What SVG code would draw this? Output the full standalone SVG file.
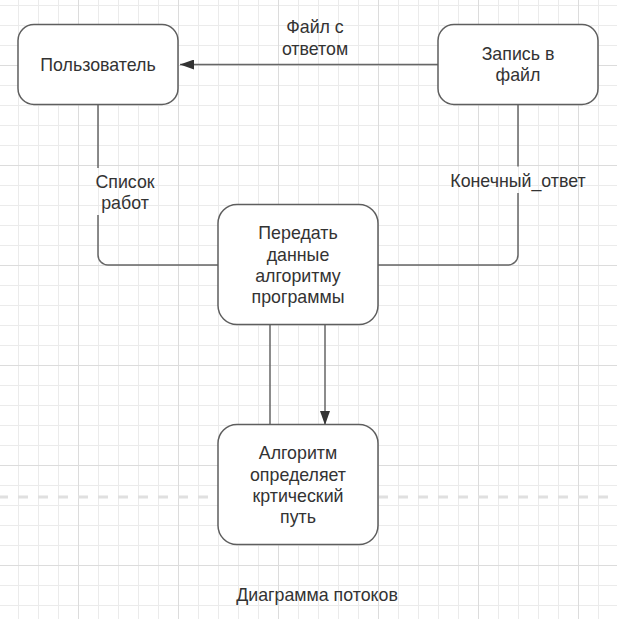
<svg xmlns="http://www.w3.org/2000/svg" width="617" height="619" viewBox="0 0 617 619">
<defs>
<pattern id="minor" x="18" y="5" width="20" height="20" patternUnits="userSpaceOnUse">
<path d="M0.5 0V20M0 0.5H20" stroke="#ebebeb" stroke-width="1" fill="none"/>
</pattern>
<pattern id="major" x="78" y="65" width="100" height="100" patternUnits="userSpaceOnUse">
<path d="M0.5 0V100M0 0.5H100" stroke="#dcdcdc" stroke-width="1" fill="none"/>
</pattern>
<marker id="arr" viewBox="0 0 14 10" refX="14" refY="5" markerWidth="14" markerHeight="10" markerUnits="userSpaceOnUse" orient="auto">
<path d="M0 0L14 5L0 10Z" fill="#333333"/>
</marker>
<style>
.box{fill:#ffffff;stroke:#5e5e5e;stroke-width:1.5}
.t{font-family:"Liberation Sans",Arial,sans-serif;font-size:17.8px;fill:#333333;text-anchor:middle}
.c{fill:none;stroke:#666666;stroke-width:1.5}
</style>
</defs>
<rect width="617" height="619" fill="#ffffff"/>
<rect width="617" height="619" fill="url(#minor)"/>
<rect width="617" height="619" fill="url(#major)"/>
<line x1="0" y1="497" x2="617" y2="497" stroke="#e0e0e0" stroke-width="3" stroke-dasharray="10 10" stroke-dashoffset="2"/>
<g id="connectors">
<path class="c" d="M438 64.5H180" marker-end="url(#arr)"/>
<path class="c" d="M98 104.5V168M98 215V255a10 10 0 0 0 10 10H218"/>
<path class="c" d="M518 104.5V166.5M518 193V255a10 10 0 0 1 -10 10H378"/>
<path class="c" d="M270 325V425"/>
<path class="c" d="M325 325V425" marker-end="url(#arr)"/>
<text class="t" x="315" y="33">Файл с</text>
<text class="t" x="315" y="54.5">ответом</text>
<text class="t" x="125" y="187.5">Список</text>
<text class="t" x="125" y="209">работ</text>
<text class="t" x="518" y="186.5">Конечный_ответ</text>
</g>
<g id="node-user">
<rect class="box" x="18" y="24.5" width="160" height="80" rx="16"/>
<text class="t" x="98" y="71">Пользователь</text>
</g>
<g id="node-file">
<rect class="box" x="438" y="24.5" width="160" height="80" rx="16"/>
<text class="t" x="518" y="59.5">Запись в</text>
<text class="t" x="518" y="81">файл</text>
</g>
<g id="node-pass">
<rect class="box" x="218" y="204.5" width="160" height="120" rx="19"/>
<text class="t" x="298" y="239">Передать</text>
<text class="t" x="298" y="260.5">данные</text>
<text class="t" x="298" y="281.5">алгоритму</text>
<text class="t" x="298" y="303">программы</text>
</g>
<g id="node-algo">
<rect class="box" x="218" y="424.5" width="160" height="120" rx="19"/>
<text class="t" x="298" y="459">Алгоритм</text>
<text class="t" x="298" y="480.5">определяет</text>
<text class="t" x="298" y="501.5">кртический</text>
<text class="t" x="298" y="523">путь</text>
</g>
<g id="title">
<text class="t" x="317" y="600.5">Диаграмма потоков</text>
</g>
</svg>
